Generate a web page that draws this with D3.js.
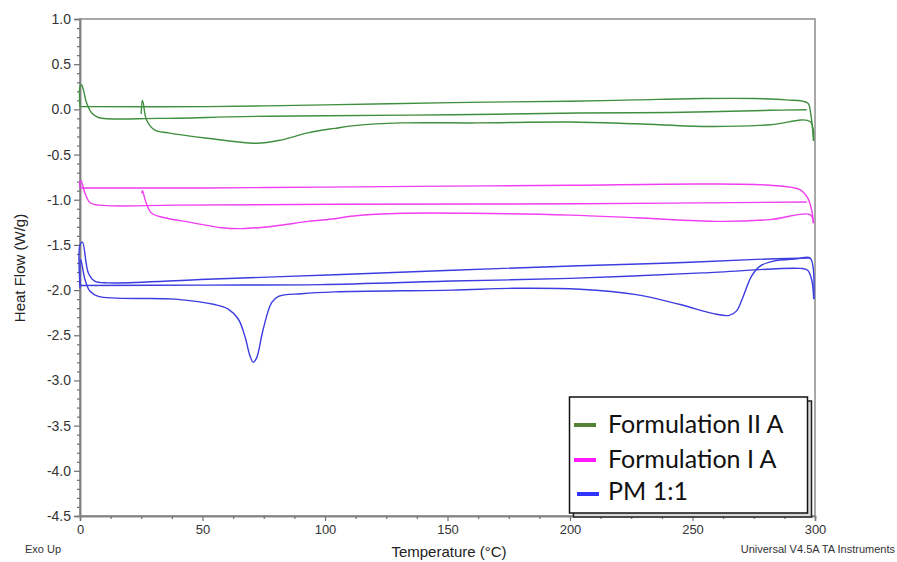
<!DOCTYPE html>
<html>
<head>
<meta charset="utf-8">
<script src="https://cdn.jsdelivr.net/npm/d3@7"></script>
<style>
  html, body { margin: 0; padding: 0; background: #fff; }
  svg { display: block; }
</style>
</head>
<body>
<svg id="chart" width="897" height="562"></svg>
<script>
// ---------- data: temperature (°C) and heat flow (W/g) ----------
// each sample: 1st heating, cooling, 2nd heating
const seriesNames = ["Formulation II A", "Formulation I A", "PM 1:1"];
const seriesColors = ["#3f8f3f", "#f03ef0", "#3c3ce0"];
const legendColors = ["#548235", "#ff1aff", "#3333ff"];

// Formulation II A (green)
const greenHeat1Temp = [25, 25.4, 25.8, 27.2, 30.6, 36, 52, 72, 82, 93, 104, 112, 131, 162, 200, 227, 258, 282, 298, 299.4];
const greenHeat1Flow = [-0.05, 0.1, 0.07, -0.12, -0.23, -0.26, -0.32, -0.375, -0.34, -0.26, -0.21, -0.18, -0.15, -0.15, -0.14, -0.16, -0.19, -0.17, -0.135, -0.35];
const greenCoolTemp  = [299.4, 298.2, 297, 288, 275, 254, 227, 200, 152, 100, 52, 0];
const greenCoolFlow  = [-0.35, -0.04, 0.07, 0.105, 0.12, 0.12, 0.105, 0.09, 0.075, 0.05, 0.03, 0.03];
const greenHeat2Temp = [0, 0, 0.7, 1.4, 2.7, 4.8, 7.5, 32, 66, 100, 152, 204, 241, 282, 296.6];
const greenHeat2Flow = [0.03, 0.25, 0.27, 0.215, 0.07, -0.04, -0.09, -0.1, -0.08, -0.07, -0.06, -0.04, -0.035, -0.01, -0.005];

// Formulation I A (magenta)
const magentaHeat1Temp = [25.2, 25.5, 26.8, 29.3, 34.7, 45, 57.8, 66, 79.6, 93.2, 104, 111.6, 132, 159, 200, 227, 261, 281.6, 298, 299.4];
const magentaHeat1Flow = [-0.93, -0.9, -1.02, -1.15, -1.2, -1.25, -1.31, -1.32, -1.29, -1.24, -1.21, -1.18, -1.15, -1.15, -1.17, -1.2, -1.24, -1.22, -1.165, -1.26];
const magentaCoolTemp  = [299.4, 298.6, 297, 294, 281.6, 254, 200, 150, 100, 50, 0];
const magentaCoolFlow  = [-1.26, -1.11, -0.98, -0.89, -0.84, -0.826, -0.84, -0.85, -0.86, -0.87, -0.87];
const magentaHeat2Temp = [0, 0, 0.4, 2, 4, 7.5, 39, 104, 204, 296.6];
const magentaHeat2Flow = [-0.87, -0.8, -0.79, -0.925, -1.03, -1.06, -1.06, -1.05, -1.045, -1.025];

// PM 1:1 (blue)
const blueHeat1Temp = [0, 0.3, 2, 4, 7.5, 38.8, 55, 60.5, 64.6, 67.3, 69.4, 70.7, 72.1, 74.8, 78.2, 81, 90.5, 104, 152, 177, 204, 227, 245, 258.5, 265, 268, 270.7, 274, 277.6, 283, 292.5, 298, 299.5];
const blueHeat1Flow = [-1.98, -1.66, -1.88, -2.01, -2.07, -2.1, -2.16, -2.21, -2.32, -2.51, -2.73, -2.8, -2.75, -2.43, -2.14, -2.07, -2.04, -2.02, -2.0, -1.98, -1.99, -2.05, -2.16, -2.26, -2.28, -2.23, -2.07, -1.85, -1.735, -1.68, -1.655, -1.645, -2.1];
const blueCoolTemp  = [299.5, 298.6, 297, 294, 254, 200, 152, 98, 52, 0];
const blueCoolFlow  = [-2.1, -1.88, -1.78, -1.76, -1.81, -1.87, -1.9, -1.94, -1.945, -1.95];
const blueHeat2Temp = [0, 0, 1, 3.4, 6, 11.6, 52, 104, 152, 204, 241, 276, 298];
const blueHeat2Flow = [-1.95, -1.5, -1.47, -1.81, -1.9, -1.92, -1.88, -1.83, -1.78, -1.73, -1.7, -1.66, -1.645];

const xMajorTicks = [0, 50, 100, 150, 200, 250, 300];
const yMajorTicks = [1.0, 0.5, 0.0, -0.5, -1.0, -1.5, -2.0, -2.5, -3.0, -3.5, -4.0, -4.5];

// ---------- layout ----------
const svg = d3.select("#chart");
const plotL = 80, plotR = 815, plotT = 19, plotB = 516;

const x = d3.scaleLinear().domain([0, 300]).range([plotL, plotR]);
const y = d3.scaleLinear().domain([-4.5, 1.0]).range([plotB, plotT]);

const xMinor = d3.range(0, 300.01, 12.5).filter(v => v % 50 !== 0);
const yMinor = d3.range(-45, 11, 1).map(v => v / 10).filter(v => Math.abs(Math.round(v * 10)) % 5 !== 0);

// frame (top + right)
svg.append("rect")
  .attr("x", plotL).attr("y", plotT)
  .attr("width", plotR - plotL).attr("height", plotB - plotT)
  .attr("fill", "none").attr("stroke", "#8c8c8c").attr("stroke-width", 1.5);

const fontTick = "'Liberation Sans', Arial, sans-serif";

// axes
const xAxis = svg.append("g").attr("transform", `translate(0,${plotB})`)
  .call(d3.axisBottom(x).tickValues(xMajorTicks).tickSize(5).tickPadding(4).tickFormat(d => String(d)));
const xAxisMinor = svg.append("g").attr("transform", `translate(0,${plotB})`)
  .call(d3.axisBottom(x).tickValues(xMinor).tickSize(3).tickFormat(""));
const yAxis = svg.append("g").attr("transform", `translate(${plotL},0)`)
  .call(d3.axisLeft(y).tickValues(yMajorTicks).tickSize(6).tickPadding(3).tickFormat(d => d.toFixed(1)));
const yAxisMinor = svg.append("g").attr("transform", `translate(${plotL},0)`)
  .call(d3.axisLeft(y).tickValues(yMinor).tickSize(3).tickFormat(""));

[xAxis, xAxisMinor, yAxis, yAxisMinor].forEach(g => {
  g.select(".domain").attr("stroke", "#808080").attr("stroke-width", 1.5);
  g.selectAll(".tick line").attr("stroke", "#707070").attr("stroke-width", 1.2);
});
xAxis.selectAll(".tick text").attr("fill", "#333").style("font-family", fontTick).style("font-size", "13px");
yAxis.selectAll(".tick text").attr("fill", "#333").style("font-family", fontTick).style("font-size", "14px");

// curves
const line = d3.line()
  .x(d => x(d[0])).y(d => y(d[1]))
  .curve(d3.curveCatmullRom.alpha(0.5));

const runs = [
  { s: 0, pts: d3.zip(greenHeat1Temp, greenHeat1Flow) },
  { s: 0, pts: d3.zip(greenCoolTemp, greenCoolFlow) },
  { s: 0, pts: d3.zip(greenHeat2Temp, greenHeat2Flow) },
  { s: 1, pts: d3.zip(magentaHeat1Temp, magentaHeat1Flow) },
  { s: 1, pts: d3.zip(magentaCoolTemp, magentaCoolFlow) },
  { s: 1, pts: d3.zip(magentaHeat2Temp, magentaHeat2Flow) },
  { s: 2, pts: d3.zip(blueHeat1Temp, blueHeat1Flow) },
  { s: 2, pts: d3.zip(blueCoolTemp, blueCoolFlow) },
  { s: 2, pts: d3.zip(blueHeat2Temp, blueHeat2Flow) }
];
svg.append("g").selectAll("path.run").data(runs).join("path")
  .attr("class", "run")
  .attr("d", d => line(d.pts))
  .attr("fill", "none")
  .attr("stroke", d => seriesColors[d.s])
  .attr("stroke-width", 1.4)
  .attr("stroke-linejoin", "round");

// axis labels
svg.append("text")
  .attr("transform", "translate(25,268) rotate(-90)")
  .attr("text-anchor", "middle")
  .style("font-family", fontTick).style("font-size", "15px").attr("fill", "#222")
  .text("Heat Flow (W/g)");

svg.append("text")
  .attr("x", 449).attr("y", 557)
  .attr("text-anchor", "middle")
  .style("font-family", fontTick).style("font-size", "15px").attr("fill", "#222")
  .text("Temperature (°C)");

svg.append("text")
  .attr("x", 25).attr("y", 553)
  .style("font-family", fontTick).style("font-size", "11px").attr("fill", "#333")
  .text("Exo Up");

svg.append("text")
  .attr("x", 895).attr("y", 553)
  .attr("text-anchor", "end")
  .style("font-family", fontTick).style("font-size", "11px").attr("fill", "#333")
  .text("Universal V4.5A TA Instruments");

// legend
const lg = svg.append("g");
const lx = 569.5, ly = 397, lw = 238, lh = 116;
lg.append("rect").attr("x", lx + 4).attr("y", ly + 4).attr("width", lw).attr("height", lh)
  .attr("fill", "#d8d8d8").attr("stroke", "#222").attr("stroke-width", 1.5);
lg.append("rect").attr("x", lx).attr("y", ly).attr("width", lw).attr("height", lh)
  .attr("fill", "#fff").attr("stroke", "#111").attr("stroke-width", 1.5);

const rowBase = [433, 468, 500];
const rowSwatch = [425, 460, 494];
const swatchX = [[574, 596], [574, 596], [577, 599]];
seriesNames.forEach((name, i) => {
  lg.append("line")
    .attr("x1", swatchX[i][0]).attr("x2", swatchX[i][1])
    .attr("y1", rowSwatch[i]).attr("y2", rowSwatch[i])
    .attr("stroke", legendColors[i]).attr("stroke-width", 4);
  lg.append("text")
    .attr("x", 608).attr("y", rowBase[i])
    .style("font-family", "Lato, 'Open Sans', sans-serif").style("font-size", "25px").attr("fill", "#111")
    .text(name);
});
</script>
</body>
</html>
